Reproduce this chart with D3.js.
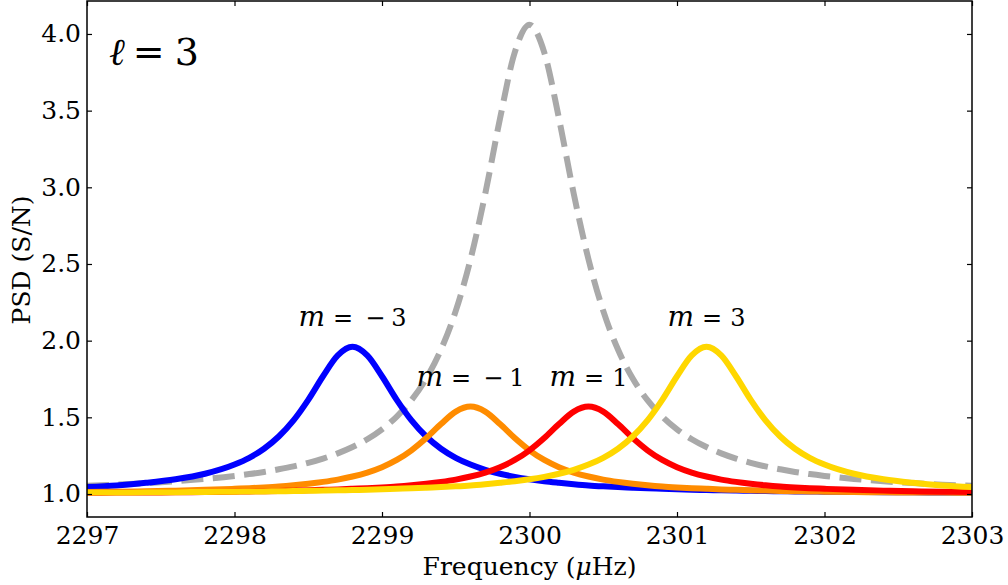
<!DOCTYPE html>
<html>
<head>
<meta charset="utf-8">
<script src="https://cdn.jsdelivr.net/npm/d3@7"></script>
<style>
  html, body { margin: 0; padding: 0; background: #fff; }
  svg { display: block; }
  .tick text { font-family: "DejaVu Serif", serif; }
  .math { font-family: "DejaVu Serif", serif; }
</style>
</head>
<body>
<svg id="chart" width="1008" height="585"></svg>
<script>
// ---- data ----
const freq = [2297.0, 2297.2, 2297.4, 2297.6, 2297.8,
  2298.0, 2298.1, 2298.2, 2298.3, 2298.4, 2298.5, 2298.6, 2298.7, 2298.8, 2298.9,
  2299.0, 2299.1, 2299.2, 2299.3, 2299.4, 2299.5, 2299.6, 2299.7, 2299.8, 2299.9,
  2300.0, 2300.1, 2300.2, 2300.3, 2300.4, 2300.5, 2300.6, 2300.7, 2300.8, 2300.9,
  2301.0, 2301.1, 2301.2, 2301.3, 2301.4, 2301.5, 2301.6, 2301.7, 2301.8, 2301.9,
  2302.0, 2302.2, 2302.4, 2302.6, 2302.8, 2303.0];

const psdMm3 = [1.045, 1.056, 1.073, 1.096, 1.132,
  1.192, 1.236, 1.295, 1.375, 1.480, 1.614, 1.768, 1.904, 1.960, 1.904,
  1.768, 1.614, 1.480, 1.375, 1.295, 1.236, 1.192, 1.158, 1.132, 1.112,
  1.096, 1.083, 1.073, 1.064, 1.056, 1.050, 1.045, 1.041, 1.037, 1.034,
  1.031, 1.028, 1.026, 1.024, 1.022, 1.021, 1.019, 1.018, 1.017, 1.016,
  1.015, 1.013, 1.012, 1.011, 1.010, 1.009];

const psdMm1 = [1.013, 1.015, 1.018, 1.022, 1.027,
  1.034, 1.038, 1.043, 1.049, 1.057, 1.067, 1.079, 1.094, 1.114, 1.140,
  1.175, 1.222, 1.285, 1.365, 1.456, 1.537, 1.570, 1.537, 1.456, 1.365,
  1.285, 1.222, 1.175, 1.140, 1.114, 1.094, 1.079, 1.067, 1.057, 1.049,
  1.043, 1.038, 1.034, 1.030, 1.027, 1.024, 1.022, 1.020, 1.018, 1.017,
  1.015, 1.013, 1.011, 1.010, 1.009, 1.008];

const psdMp1 = [1.008, 1.009, 1.010, 1.011, 1.013,
  1.015, 1.017, 1.018, 1.020, 1.022, 1.024, 1.027, 1.030, 1.034, 1.038,
  1.043, 1.049, 1.057, 1.067, 1.079, 1.094, 1.114, 1.140, 1.175, 1.222,
  1.285, 1.365, 1.456, 1.537, 1.570, 1.537, 1.456, 1.365, 1.285, 1.222,
  1.175, 1.140, 1.114, 1.094, 1.079, 1.067, 1.057, 1.049, 1.043, 1.038,
  1.034, 1.027, 1.022, 1.018, 1.015, 1.013];

const psdMp3 = [1.009, 1.010, 1.011, 1.012, 1.013,
  1.015, 1.016, 1.017, 1.018, 1.019, 1.021, 1.022, 1.024, 1.026, 1.028,
  1.031, 1.034, 1.037, 1.041, 1.045, 1.050, 1.056, 1.064, 1.073, 1.083,
  1.096, 1.112, 1.132, 1.158, 1.192, 1.236, 1.295, 1.375, 1.480, 1.614,
  1.768, 1.904, 1.960, 1.904, 1.768, 1.614, 1.480, 1.375, 1.295, 1.236,
  1.192, 1.132, 1.096, 1.073, 1.056, 1.045];

const psdTotal = [1.054, 1.061, 1.071, 1.083, 1.098,
  1.118, 1.130, 1.144, 1.161, 1.180, 1.203, 1.231, 1.265, 1.306, 1.357,
  1.422, 1.505, 1.612, 1.753, 1.942, 2.194, 2.530, 2.958, 3.448, 3.880,
  4.060, 3.880, 3.448, 2.958, 2.530, 2.194, 1.942, 1.753, 1.612, 1.505,
  1.422, 1.357, 1.306, 1.265, 1.231, 1.203, 1.180, 1.161, 1.144, 1.130,
  1.118, 1.098, 1.083, 1.071, 1.061, 1.054];

const seriesM = ["−3", "−1", "1", "3"];
const seriesCenters = [2298.8, 2299.6, 2300.4, 2301.2];
const seriesPeaks = [1.96, 1.57, 1.57, 1.96];
const seriesColors = ["#0000ff", "#ff8c00", "#ff0000", "#ffd700"];
const xTicks = [2297, 2298, 2299, 2300, 2301, 2302, 2303];
const yTicks = [1.0, 1.5, 2.0, 2.5, 3.0, 3.5, 4.0];
const degreeLabel = "3";

// ---- layout ----
const svg = d3.select("#chart");
const L = 87, R = 972, T = 1, B = 517;
const x = d3.scaleLinear().domain([2297, 2303]).range([L, R]);
const y = d3.scaleLinear().domain([0.85, 4.215]).range([B, T]);

svg.append("defs").append("clipPath").attr("id", "clip")
  .append("rect").attr("x", L).attr("y", T).attr("width", R - L).attr("height", B - T);

const line = d3.line().x(d => x(d[0])).y(d => y(d[1])).curve(d3.curveMonotoneX);
const plot = svg.append("g").attr("clip-path", "url(#clip)");

plot.append("path")
  .attr("d", line(freq.map((f, i) => [f, psdTotal[i]])))
  .attr("fill", "none").attr("stroke", "#a9a9a9").attr("stroke-width", 6)
  .attr("stroke-dasharray", "22,9.5");

const allSeries = [psdMm3, psdMm1, psdMp1, psdMp3];
allSeries.forEach((vals, k) => {
  plot.append("path")
    .attr("d", line(freq.map((f, i) => [f, vals[i]])))
    .attr("fill", "none").attr("stroke", seriesColors[k]).attr("stroke-width", 6)
    .attr("stroke-linejoin", "round");
});

// ---- axes ----
const fs = 25;
const xAxisB = d3.axisBottom(x).tickValues(xTicks).tickFormat(d3.format("d")).tickSizeInner(-5).tickSizeOuter(0).tickPadding(9);
const xAxisT = d3.axisTop(x).tickValues(xTicks).tickFormat("").tickSizeInner(-5).tickSizeOuter(0);
const yAxisL = d3.axisLeft(y).tickValues(yTicks).tickFormat(d3.format(".1f")).tickSizeInner(-5).tickSizeOuter(0).tickPadding(6);
const yAxisR = d3.axisRight(y).tickValues(yTicks).tickFormat("").tickSizeInner(-5).tickSizeOuter(0);

function styleAxis(g) {
  g.select(".domain").remove();
  g.selectAll(".tick line").attr("stroke", "#000").attr("stroke-width", 1.2);
  g.selectAll(".tick text").attr("fill", "#000").style("font-size", fs + "px");
}
svg.append("g").attr("transform", `translate(0,${B})`).call(xAxisB).call(styleAxis);
svg.append("g").attr("transform", `translate(0,${T})`).call(xAxisT).call(styleAxis);
svg.append("g").attr("transform", `translate(${L},0)`).call(yAxisL).call(styleAxis);
svg.append("g").attr("transform", `translate(${R},0)`).call(yAxisR).call(styleAxis);

svg.append("rect").attr("x", L).attr("y", T).attr("width", R - L).attr("height", B - T)
  .attr("fill", "none").attr("stroke", "#000").attr("stroke-width", 1.5);

// axis labels
const xl = svg.append("text").attr("x", (L + R) / 2).attr("y", 575)
  .attr("text-anchor", "middle").style("font-family", "'DejaVu Serif', serif").style("font-size", fs + "px");
xl.append("tspan").text("Frequency (");
xl.append("tspan").style("font-style", "italic").text("μ");
xl.append("tspan").text("Hz)");

svg.append("text").attr("transform", `translate(30,${(T + B) / 2 + 1}) rotate(-90)`)
  .attr("text-anchor", "middle").style("font-family", "'DejaVu Serif', serif").style("font-size", fs + "px")
  .text("PSD (S/N)");

// ell label
const ell = svg.append("text").attr("class", "math").attr("x", 109).attr("y", 65)
  .style("font-size", "38px");
ell.append("tspan").style("font-style", "italic").text("ℓ");
ell.append("tspan").attr("dx", 8).text("=");
ell.append("tspan").attr("dx", 10).text(degreeLabel);

// m labels
seriesM.forEach((mv, k) => {
  const t = svg.append("text").attr("class", "math")
    .attr("x", x(seriesCenters[k])).attr("y", y(seriesPeaks[k] + 0.15) + 2)
    .attr("text-anchor", "middle").style("font-size", "24px");
  t.append("tspan").style("font-style", "italic").style("font-size", "28px").text("m");
  t.append("tspan").attr("dx", 8).text("=");
  t.append("tspan").attr("dx", mv.startsWith("−") ? 12 : 8).text(mv.startsWith("−") ? "−" : mv);
  if (mv.startsWith("−")) t.append("tspan").attr("dx", 6).text(mv.slice(1));
});
</script>
</body>
</html>
